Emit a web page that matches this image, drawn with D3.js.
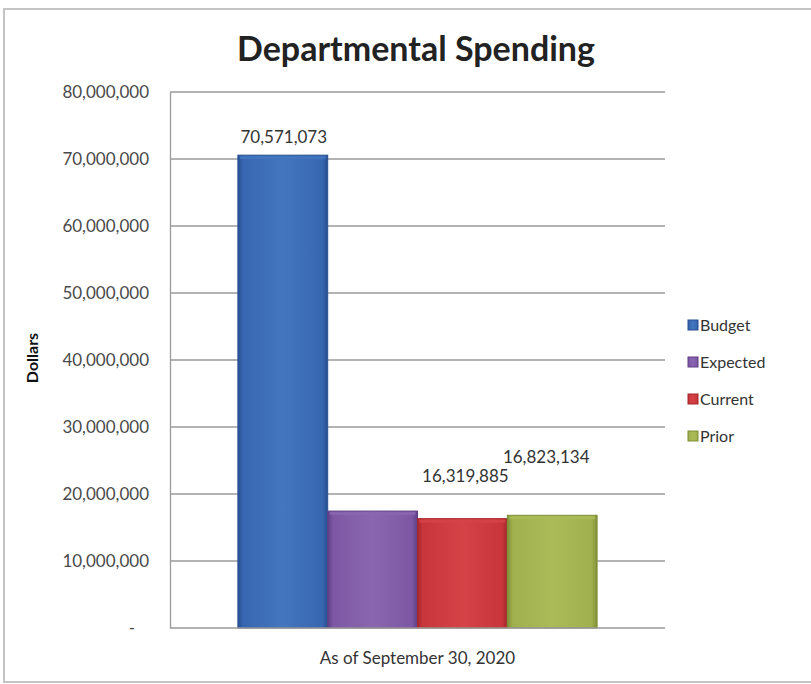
<!DOCTYPE html>
<html>
<head>
<meta charset="utf-8">
<script src="https://cdn.jsdelivr.net/npm/d3@7"></script>
<style>
  html, body { margin: 0; padding: 0; background: #fff; }
  svg { display: block; font-family: Lato, "Open Sans", sans-serif; }
</style>
</head>
<body>
<svg id="chart" width="811" height="684"></svg>
<script>
// Chart data
const category = "As of September 30, 2020";
const series = ["Budget", "Expected", "Current", "Prior"];
const values = [70571073, 17450000, 16319885, 16823134];
const labelled = [true, false, true, true];
const yTicks = [0, 10000000, 20000000, 30000000, 40000000, 50000000, 60000000, 70000000, 80000000];

// Colours: base, light centre, dark edge
const baseColors = ["#3767b0", "#7d57a3", "#c8363c", "#a0b04e"];
const lightColors = ["#4376bf", "#8a66b0", "#d54347", "#aabb58"];
const darkColors = ["#264f91", "#5e3f86", "#a4282d", "#7f8f36"];

const svg = d3.select("#chart");
const margin = { left: 170, right: 665, top: 92, bottom: 628 };

// Outer frame
svg.append("rect")
  .attr("x", 4).attr("y", 9)
  .attr("width", 830).attr("height", 673)
  .attr("fill", "none").attr("stroke", "#c4c4c4").attr("stroke-width", 2);

const y = d3.scaleLinear().domain([0, 80000000]).range([margin.bottom, margin.top]);

const xCat = d3.scaleBand().domain([category])
  .range([margin.left, margin.right]).paddingInner(0).paddingOuter(0.189);
const xSer = d3.scaleBand().domain(series)
  .range([0, xCat.bandwidth()]).padding(0);

// Gradients for bevelled bar look
const defs = svg.append("defs");
series.forEach((s, i) => {
  const g = defs.append("linearGradient").attr("id", "grad" + i)
    .attr("x1", "0%").attr("x2", "100%").attr("y1", "0%").attr("y2", "0%");
  g.append("stop").attr("offset", "0%").attr("stop-color", darkColors[i]);
  g.append("stop").attr("offset", "6%").attr("stop-color", baseColors[i]);
  g.append("stop").attr("offset", "50%").attr("stop-color", lightColors[i]);
  g.append("stop").attr("offset", "94%").attr("stop-color", baseColors[i]);
  g.append("stop").attr("offset", "100%").attr("stop-color", darkColors[i]);
});

// Gridlines
svg.append("g").selectAll("line").data(yTicks.slice(1)).join("line")
  .attr("x1", margin.left).attr("x2", margin.right)
  .attr("y1", d => y(d)).attr("y2", d => y(d))
  .attr("stroke", "#9a9a9a").attr("stroke-width", 1.3);

// Y axis
const yAxis = d3.axisLeft(y).tickValues(yTicks).tickSize(0).tickPadding(21)
  .tickFormat(d => d === 0 ? "-" : d3.format(",")(d));
const ya = svg.append("g").attr("transform", `translate(${margin.left},0)`).call(yAxis);
ya.select(".domain").attr("stroke", "#9a9a9a").attr("stroke-width", 1.3);
ya.selectAll("text").attr("fill", "#4a4a4a").style("font-size", "17px")
  .style("font-family", "Lato, sans-serif");
ya.selectAll(".tick").filter(d => d === 0).select("text").attr("dx", -14);

// Bars
const gx = xCat(category);
svg.append("g").selectAll("rect").data(series).join("rect")
  .attr("x", s => gx + xSer(s))
  .attr("width", xSer.bandwidth())
  .attr("y", (s, i) => y(values[i]))
  .attr("height", (s, i) => y(0) - y(values[i]))
  .attr("fill", (s, i) => `url(#grad${i})`)
  .attr("stroke", (s, i) => darkColors[i]).attr("stroke-width", 1);

// Top highlight on each bar
svg.append("g").selectAll("rect").data(series).join("rect")
  .attr("x", s => gx + xSer(s) + 2)
  .attr("width", xSer.bandwidth() - 4)
  .attr("y", (s, i) => y(values[i]) + 1)
  .attr("height", 3)
  .attr("fill", (s, i) => lightColors[i]).attr("opacity", 0.9);

// Baseline
svg.append("line")
  .attr("x1", margin.left).attr("x2", margin.right)
  .attr("y1", y(0)).attr("y2", y(0))
  .attr("stroke", "#9a9a9a").attr("stroke-width", 1.5);

// Value labels (hand-placed offsets from each bar's top centre)
const labelOffset = { Budget: [1, -12], Current: [3, -37], Prior: [-6, -52] };
svg.append("g").selectAll("text")
  .data(series.map((s, i) => ({ s, v: values[i], show: labelled[i] })).filter(d => d.show))
  .join("text")
  .attr("x", d => gx + xSer(d.s) + xSer.bandwidth() / 2 + labelOffset[d.s][0])
  .attr("y", d => y(d.v) + labelOffset[d.s][1])
  .attr("text-anchor", "middle")
  .attr("fill", "#333").style("font-size", "17px")
  .text(d => d3.format(",")(d.v));

// Title
svg.append("text")
  .attr("x", 416).attr("y", 61)
  .attr("text-anchor", "middle")
  .attr("fill", "#222").style("font-size", "34px").style("font-weight", "bold")
  .text("Departmental Spending");

// Y axis title
svg.append("text")
  .attr("transform", "translate(38,358) rotate(-90)")
  .attr("text-anchor", "middle")
  .attr("fill", "#111").style("font-size", "16px").style("font-weight", "bold")
  .text("Dollars");

// X axis label
svg.append("text")
  .attr("x", xCat(category) + xCat.bandwidth() / 2).attr("y", 664)
  .attr("text-anchor", "middle")
  .attr("fill", "#333").style("font-size", "17px")
  .text(category);

// Legend
const legend = svg.append("g").attr("transform", "translate(688,325)");
const li = legend.selectAll("g").data(series).join("g")
  .attr("transform", (d, i) => `translate(0,${i * 37})`);
li.append("rect").attr("x", 0).attr("y", -5).attr("width", 10).attr("height", 10)
  .attr("fill", (d, i) => `url(#grad${i})`)
  .attr("stroke", (d, i) => darkColors[i]).attr("stroke-width", 1);
li.append("text").attr("x", 12).attr("y", 6)
  .attr("fill", "#333").style("font-size", "16px")
  .text(d => d);
</script>
</body>
</html>
